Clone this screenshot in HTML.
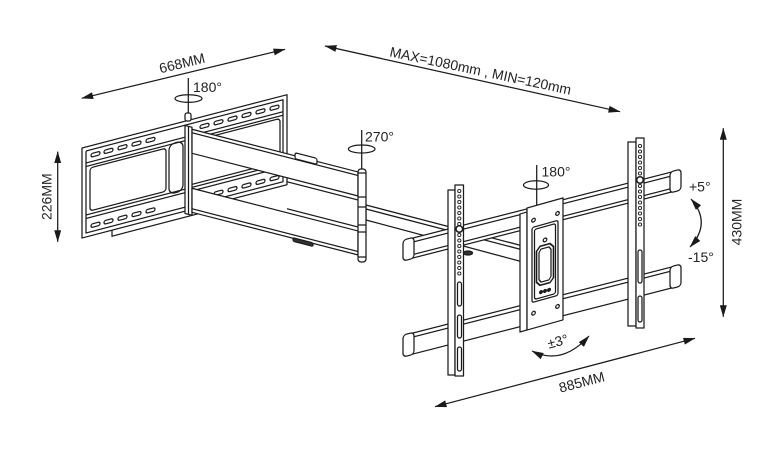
<!DOCTYPE html>
<html><head><meta charset="utf-8">
<style>
html,body{margin:0;padding:0;background:#fff;}
svg{display:block;}
text{font-family:"Liberation Sans",Arial,sans-serif;font-size:14px;fill:#222;stroke:none;}
</style></head><body>
<svg width="780" height="450" viewBox="0 0 780 450" xmlns="http://www.w3.org/2000/svg">
<defs>
<marker id="a" viewBox="0 0 12 7" refX="11.5" refY="3.5" markerWidth="12" markerHeight="7" markerUnits="userSpaceOnUse" orient="auto-start-reverse"><path d="M0,0L12,3.5L0,7z" fill="#1a1a1a" stroke="none"/></marker>
</defs>
<rect width="780" height="450" fill="#fff"/>
<g fill="none" stroke="#1a1a1a" stroke-width="1.25" stroke-linejoin="round">

<!-- dimension lines -->
<path d="M81.7,98.3L285,49.3" marker-start="url(#a)" marker-end="url(#a)"/>
<path d="M325,46L620,111.7" marker-start="url(#a)" marker-end="url(#a)"/>
<path d="M57.7,151.7V241.7" marker-start="url(#a)" marker-end="url(#a)"/>
<path d="M723.3,128.3V316.7" marker-start="url(#a)" marker-end="url(#a)"/>
<path d="M435,406.7L695,338.3" marker-start="url(#a)" marker-end="url(#a)"/>
<path d="M691,199Q712,223 690,247" marker-start="url(#a)" marker-end="url(#a)"/>
<path d="M532,351Q562,366 589,336" marker-start="url(#a)" marker-end="url(#a)"/>

<!-- wall plate -->
<g transform="matrix(1,-0.26,0,1,0,21.32)">
<rect x="82" y="148" width="205" height="90" fill="#fff"/>
<path d="M86,152V234H283V152H86"/>
<path d="M86,164H283M86,167.5H283"/>
<path d="M86,216H283M86,219.5H283"/>
<g>
<rect x="91" y="156" width="9" height="3.5" rx="1.7"/>
<rect x="104" y="156" width="9" height="3.5" rx="1.7"/>
<rect x="118" y="156" width="9" height="3.5" rx="1.7"/>
<rect x="132" y="156" width="9" height="3.5" rx="1.7"/>
<rect x="146" y="156" width="9" height="3.5" rx="1.7"/>
<rect x="200" y="156" width="9" height="3.5" rx="1.7"/>
<rect x="214" y="156" width="9" height="3.5" rx="1.7"/>
<rect x="228" y="156" width="9" height="3.5" rx="1.7"/>
<rect x="242" y="156" width="9" height="3.5" rx="1.7"/>
<rect x="256" y="156" width="9" height="3.5" rx="1.7"/>
<rect x="270" y="156" width="9" height="3.5" rx="1.7"/>
<rect x="91" y="226.5" width="9" height="3.5" rx="1.7"/>
<rect x="104" y="226.5" width="9" height="3.5" rx="1.7"/>
<rect x="118" y="226.5" width="9" height="3.5" rx="1.7"/>
<rect x="132" y="226.5" width="9" height="3.5" rx="1.7"/>
<rect x="146" y="226.5" width="9" height="3.5" rx="1.7"/>
<rect x="200" y="226.5" width="9" height="3.5" rx="1.7"/>
<rect x="214" y="226.5" width="9" height="3.5" rx="1.7"/>
<rect x="228" y="226.5" width="9" height="3.5" rx="1.7"/>
<rect x="242" y="226.5" width="9" height="3.5" rx="1.7"/>
<rect x="256" y="226.5" width="9" height="3.5" rx="1.7"/>
<rect x="270" y="226.5" width="9" height="3.5" rx="1.7"/>
</g>
<rect x="90" y="170" width="76" height="43" rx="3"/>
<rect x="169" y="167" width="14" height="50" rx="6"/>
<rect x="187" y="170" width="93" height="43" rx="3"/>
<path d="M112,238V244H205V238"/>
</g>
<rect x="185" y="113" width="6" height="8" rx="2" fill="#fff"/>

<!-- arm 1 -->
<g transform="matrix(1,0.257,0,1,0,-48.06)">
<path d="M287,156H358M287,183H358"/>
<rect x="185" y="126" width="7" height="88" fill="#fff"/>
<path d="M188.5,126V214"/>
<rect x="192" y="128" width="166" height="24" fill="#fff"/>
<path d="M192,131.5H358"/>
<rect x="192" y="187" width="166" height="24" fill="#fff"/>
<path d="M192,207.5H358"/>
<rect x="295" y="125" width="22" height="6" rx="2" fill="#fff"/>
<rect x="293" y="210.5" width="20" height="3.5" rx="1.5" fill="#333"/>
</g>

<!-- arm 2 -->
<path d="M366,205L523,246L523,262L366,220Z" fill="#fff"/>
<path d="M366,209L523,250"/>

<!-- elbow post -->
<rect x="358" y="169" width="8" height="93" rx="3" fill="#fff"/>
<path d="M358,173H366M358,197H366M358,207H366M358,225H366M358,232H366M358,257H366"/>

<!-- rails -->
<g transform="matrix(1,-0.255,0,1,0,103.28)">
<rect x="407" y="240" width="270" height="20" fill="#fff"/>
<path d="M413,244H671M413,256.5H671"/>
<rect x="403" y="239.5" width="11" height="21" rx="3.5" fill="#fff"/>
<rect x="670" y="239.5" width="11" height="21" rx="3.5" fill="#fff"/>
<rect x="407" y="335" width="270" height="21" fill="#fff"/>
<path d="M413,339H671"/>
<rect x="403" y="334.5" width="11" height="22" rx="3.5" fill="#fff"/>
<rect x="670" y="334.5" width="11" height="22" rx="3.5" fill="#fff"/>
</g>
<ellipse cx="468" cy="253" rx="4.5" ry="2" fill="#333"/>

<!-- center plate -->
<g transform="matrix(1,-0.28,0,1,0,147.56)">
<rect x="520" y="212" width="7" height="118" fill="#fff"/>
<rect x="527" y="208" width="36" height="122" fill="#fff"/>
<rect x="532" y="229" width="26" height="75" rx="2"/>
<rect x="534.5" y="231.5" width="21" height="70" rx="2"/>
<path d="M540,250H550L553.5,254V285L550,289H540L536.5,285V254Z" stroke-width="1.6"/>
<path d="M541,253H549L551,256V283L549,286H541L539,283V256Z"/>
<circle cx="545" cy="245" r="1.8"/>
<circle cx="541" cy="296" r="1.4" fill="#222"/>
<circle cx="545" cy="296" r="1.4" fill="#222"/>
<circle cx="549" cy="296" r="1.4" fill="#222"/>
<circle cx="533.5" cy="222" r="1.8"/>
<circle cx="557.5" cy="222" r="1.8"/>
<circle cx="533.5" cy="315" r="1.8"/>
<circle cx="557.5" cy="315" r="1.8"/>
</g>

<!-- left upright -->
<rect x="448" y="190" width="7" height="185" fill="#fff"/>
<rect x="455" y="185" width="8.5" height="191" fill="#fff"/>
<g stroke-width="0.9">
<circle cx="459.3" cy="191" r="1.6"/><circle cx="459.3" cy="196.5" r="1.6"/><circle cx="459.3" cy="202" r="1.6"/><circle cx="459.3" cy="207.5" r="1.6"/><circle cx="459.3" cy="213" r="1.6"/><circle cx="459.3" cy="218.5" r="1.6"/><circle cx="459.3" cy="224" r="1.6"/>
<circle cx="459.3" cy="235" r="1.6"/><circle cx="459.3" cy="240.5" r="1.6"/><circle cx="459.3" cy="246" r="1.6"/><circle cx="459.3" cy="251.5" r="1.6"/><circle cx="459.3" cy="257" r="1.6"/><circle cx="459.3" cy="262.5" r="1.6"/><circle cx="459.3" cy="268" r="1.6"/><circle cx="459.3" cy="273.5" r="1.6"/>
</g>
<circle cx="459.3" cy="229" r="3.3" stroke-width="1.5"/>
<rect x="457.5" y="282" width="4" height="24" rx="2"/>
<rect x="457.5" y="315" width="4" height="23" rx="2"/>
<rect x="457.5" y="347" width="4" height="24" rx="2"/>

<!-- right upright -->
<rect x="628" y="142" width="8" height="184" fill="#fff"/>
<rect x="636" y="138" width="8" height="190" fill="#fff"/>
<g stroke-width="0.9">
<circle cx="640" cy="146" r="1.6"/><circle cx="640" cy="151.5" r="1.6"/><circle cx="640" cy="157" r="1.6"/><circle cx="640" cy="162.5" r="1.6"/><circle cx="640" cy="168" r="1.6"/><circle cx="640" cy="173.5" r="1.6"/>
<circle cx="640" cy="186" r="1.6"/><circle cx="640" cy="191.5" r="1.6"/><circle cx="640" cy="197" r="1.6"/><circle cx="640" cy="202.5" r="1.6"/><circle cx="640" cy="208" r="1.6"/><circle cx="640" cy="213.5" r="1.6"/><circle cx="640" cy="219" r="1.6"/><circle cx="640" cy="224.5" r="1.6"/>
</g>
<circle cx="640" cy="180" r="3.3" stroke-width="1.5"/>
<rect x="638" y="250" width="4" height="33" rx="2"/>
<rect x="638" y="296" width="4" height="26" rx="2"/>

<!-- rotation markers -->
<ellipse cx="188.5" cy="98.5" rx="13.5" ry="3.8"/>
<path d="M188.3,78V113"/>
<ellipse cx="361.7" cy="149" rx="13.3" ry="4"/>
<path d="M361.7,130V169"/>
<ellipse cx="536" cy="185" rx="12.5" ry="4.2"/>
<path d="M536.7,165V205"/>
</g>

<!-- labels -->
<text transform="translate(183.2,67.9) rotate(-13.6)" text-anchor="middle">668MM</text>
<text transform="translate(479.5,75.5) rotate(12)" text-anchor="middle">MAX=1080mm , MIN=120mm</text>
<text transform="translate(51.5,196.7) rotate(-90)" text-anchor="middle">226MM</text>
<text transform="translate(741.5,222) rotate(-90)" text-anchor="middle">430MM</text>
<text transform="translate(583,386.8) rotate(-14.7)" text-anchor="middle">885MM</text>
<text transform="translate(559,346) rotate(-15)" text-anchor="middle">±3°</text>
<text x="689" y="191.5">+5°</text>
<text x="688" y="262">-15°</text>
<text x="193" y="92">180°</text>
<text x="365" y="141.7">270°</text>
<text x="541.5" y="176.7">180°</text>
</svg>
</body></html>
